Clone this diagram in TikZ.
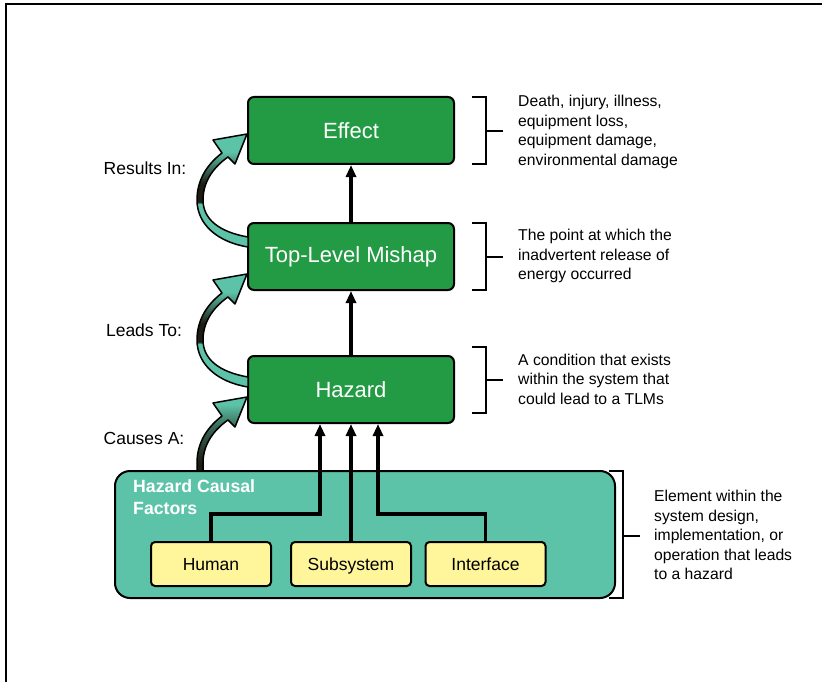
\documentclass[tikz,border=0pt]{standalone}
\usepackage{fontspec}
\setmainfont{Liberation Sans}
\usetikzlibrary{arrows.meta}

\definecolor{boxgreen}{HTML}{239B45}
\definecolor{causalteal}{HTML}{5DC3A8}
\definecolor{factoryellow}{HTML}{FFF59A}
\definecolor{twistdark}{HTML}{1C1C12}
\colorlet{twistmid}{twistdark!55!causalteal}

% band that turns over half way: teal tail, dark middle, teal head
\pgfdeclareverticalshading{twist}{100bp}{color(0bp)=(causalteal); color(44bp)=(causalteal);
  color(45bp)=(twistdark); color(53bp)=(twistdark); color(67bp)=(causalteal); color(100bp)=(causalteal)}
\pgfdeclareverticalshading{rise}{100bp}{color(0bp)=(twistdark); color(30bp)=(twistdark);
  color(55bp)=(twistmid); color(70bp)=(causalteal); color(100bp)=(causalteal)}

\tikzset{
  box/.style={draw=black, line width=2pt, rounded corners=6pt, fill=boxgreen, text=white,
    minimum width=206pt, minimum height=67pt, font=\fontsize{22}{26}\selectfont},
  factor/.style={draw=black, line width=2pt, rounded corners=4pt, fill=factoryellow,
    minimum width=120pt, minimum height=44pt, text height=13.5pt, text depth=1pt,
    font=\fontsize{17.5}{21}\selectfont},
  flow/.style={line width=3.5pt, -{Triangle[width=10pt,length=12pt]}},
  bracket/.style={line width=2pt},
  note/.style={anchor=west, align=left, inner sep=0pt, font=\fontsize{15.7}{19.4}\selectfont},
  lbl/.style={font=\fontsize{17.5}{20}\selectfont},
  pics/twistarrow/.style={code={
    \shadedraw[shading=twist, line width=1.5pt, line join=round]
      (0,0) -- (-12,30) -- (-19,23) .. controls (-36,35) and (-44,50) .. (-44,66)
      .. controls (-44,85) and (-28,98) .. (1,103) -- (1,113)
      .. controls (-30,108) and (-50,90) .. (-50,66)
      .. controls (-50,48) and (-42,32) .. (-25,19) -- (-34,6) -- cycle;
  }},
  pics/risearrow/.style={code={
    \shadedraw[shading=rise, line width=1.5pt, line join=round]
      (0,0) -- (-12,30) -- (-19,23) .. controls (-36,35) and (-44,50) .. (-44,66)
      -- (-44,74) -- (-50,74) -- (-50,66)
      .. controls (-50,48) and (-42,32) .. (-25,19) -- (-34,6) -- cycle;
  }}
}

\begin{document}
\begin{tikzpicture}[x=1pt, y=-1pt]
\useasboundingbox (0,0) rectangle (822,682);
\draw[line width=2pt] (6,682) -- (6,4) -- (822,4);

% causal factors
\node[draw=black, line width=2pt, rounded corners=15pt, fill=causalteal,
  minimum width=500pt, minimum height=127pt] (causal) at (365,534.5) {};
\node[anchor=north west, align=left, inner sep=0pt, text=white,
  font=\bfseries\fontsize{17.7}{22}\selectfont] (causaltitle) at (133,479) {Hazard Causal\\Factors};
\node[factor] (human) at (211,564) {Human};
\node[factor] (subsystem) at (351,564) {Subsystem};
\node[factor] (interface) at (485.5,564) {Interface};

% chain
\node[box] (hazard) at (351,389.5) {Hazard};
\node[box] (mishap) at (351,256.5) {Top-Level Mishap};
\node[box] (effect) at (351,130.5) {Effect};

\draw[flow] (human.north) -- ++(0,-27) -| ([xshift=-31pt]hazard.south);
\draw[flow] (subsystem.north) -- (hazard.south);
\draw[flow] (interface.north) -- ++(0,-27) -| ([xshift=27pt]hazard.south);
\draw[flow] (hazard.north) -- (mishap.south);
\draw[flow] (mishap.north) -- (effect.south);

% curved arrows on the left
\pic at (247,134) {twistarrow};
\pic at (247,274) {twistarrow};
\pic at (247,397) {risearrow};
\node[lbl] (resultsin) at (145,168) {Results In:};
\node[lbl] (leadsto) at (144,330) {Leads To:};
\node[lbl] (causesa) at (144,438) {Causes A:};

% brackets and notes
\draw[bracket] (472,97) -- (486,97) -- (486,164) -- (472,164);
\draw[bracket] (486,131) -- (503,131);
\node[note] (effectnote) at (518,132) {Death, injury, illness,\\equipment loss,\\equipment damage,\\environmental damage};
\draw[bracket] (472,223) -- (486,223) -- (486,290) -- (472,290);
\draw[bracket] (486,257) -- (503,257);
\node[note] (mishapnote) at (518,256) {The point at which the\\inadvertent release of\\energy occurred};
\draw[bracket] (472,347) -- (486,347) -- (486,413) -- (472,413);
\draw[bracket] (486,380) -- (503,380);
\node[note] (hazardnote) at (518,379) {A condition that exists\\within the system that\\could lead to a TLMs};
\draw[bracket] (609,471) -- (623,471) -- (623,598) -- (609,598);
\draw[bracket] (623,536) -- (640,536);
\node[note] (causalnote) at (654,535) {Element within the\\system design,\\implementation, or\\operation that leads\\to a hazard};
\end{tikzpicture}
\end{document}
